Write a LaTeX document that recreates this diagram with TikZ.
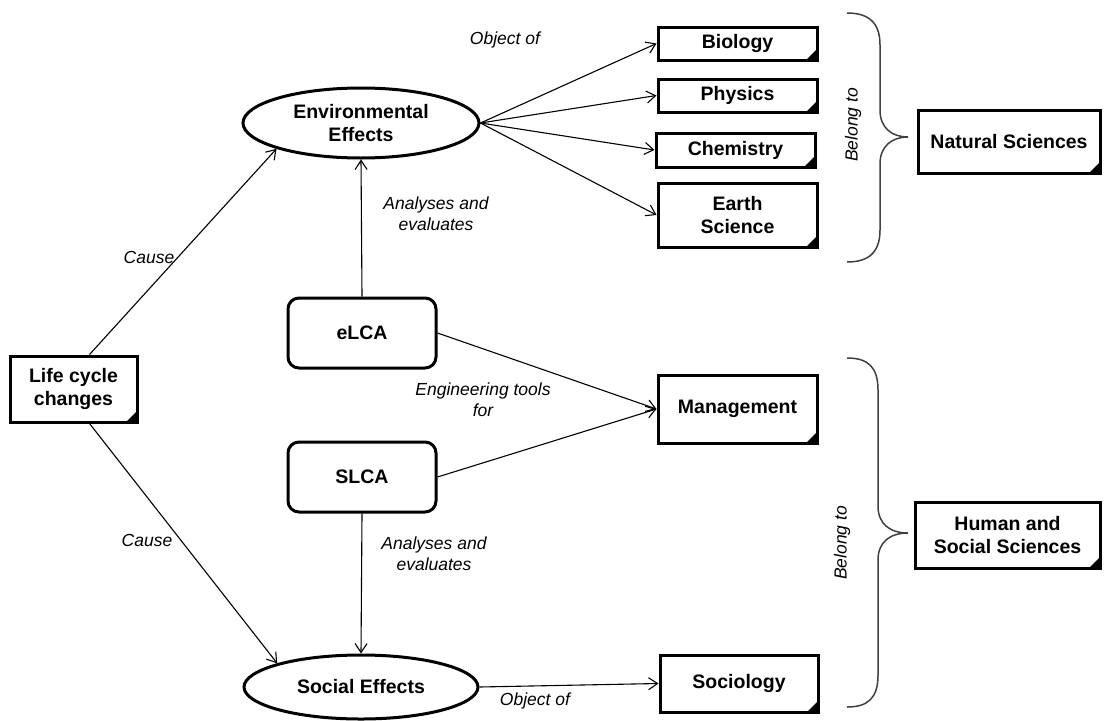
\documentclass[tikz,border=0pt]{standalone}
\usepackage{fontspec}
\setmainfont{Liberation Sans}
\usetikzlibrary{shapes.geometric,arrows.meta}
\tikzset{
  boxtext/.style={font=\fontsize{19.5}{23}\selectfont\bfseries, align=center, inner sep=0pt},
  docbox/.style={boxtext, draw, line width=3pt, rectangle,
    path picture={\fill (path picture bounding box.south east) -- ++(-11pt,0) -- ++(11pt,11pt) -- cycle;}},
  roundbox/.style={boxtext, draw, line width=3pt, rounded corners=11pt, rectangle},
  ellbox/.style={boxtext, draw, line width=3pt, ellipse},
  lbl/.style={font=\fontsize{17.5}{21}\selectfont\itshape, align=center, inner sep=0pt},
  arr/.style={line width=1.1pt, -{Straight Barb[length=9pt,width=12pt,line width=1.1pt]}},
  brace/.style={line width=1.5pt, draw=black!75}
}
\begin{document}
\begin{tikzpicture}[x=1pt,y=-1pt]
\useasboundingbox[fill=white] (0,0) rectangle (1107,720);

% main nodes
\node[docbox, minimum width=127pt, minimum height=66pt] (life) at (73.5,389) {Life cycle\\changes};
\node[ellbox, minimum width=236pt, minimum height=70pt] (env) at (361,123) {Environmental\\Effects};
\node[ellbox, minimum width=234pt, minimum height=64pt] (soc) at (361,687) {Social Effects};
\node[roundbox, minimum width=148pt, minimum height=70pt] (elca) at (362,333) {eLCA};
\node[roundbox, minimum width=148pt, minimum height=70pt] (slca) at (362,477) {SLCA};

\node[docbox, minimum width=159pt, minimum height=33pt] (bio) at (737.5,43.5) {Biology};
\node[docbox, minimum width=159pt, minimum height=33pt] (phy) at (737.5,95.5) {Physics};
\node[docbox, minimum width=159pt, minimum height=34pt] (chem) at (735.5,150) {Chemistry};
\node[docbox, minimum width=159pt, minimum height=64pt] (earth) at (737.5,215) {Earth\\Science};
\node[docbox, minimum width=182pt, minimum height=63pt] (nat) at (1009,141.5) {Natural Sciences};
\node[docbox, minimum width=159pt, minimum height=68pt] (man) at (737.5,409) {Management};
\node[docbox, minimum width=185pt, minimum height=66pt] (hum) at (1007.5,535) {Human and\\Social Sciences};
\node[docbox, minimum width=158pt, minimum height=57pt] (socio) at (739,683.5) {Sociology};

% connectors
\draw[arr] ([xshift=16pt]life.north) -- (env.south west);
\draw[arr] ([xshift=16pt]life.south) -- (soc.north west);
\draw[arr] (elca.north) -- (env.south);
\draw[arr] (slca.south) -- (soc.north);
\draw[arr] (env.east) -- (bio.west);
\draw[arr] (env.east) -- (phy.west);
\draw[arr] (env.east) -- (chem.west);
\draw[arr] (env.east) -- (earth.west);
\draw[arr] (elca.east) -- (man.west);
\draw[arr] (slca.east) -- (man.west);
\draw[arr] (soc.east) -- (socio.west);

% labels
\node[lbl] (l1) at (505,40) {Object of};
\node[lbl] (l2) at (149,257) {Cause};
\node[lbl] (l3) at (436,214) {Analyses and\\evaluates};
\node[lbl] (l4) at (483,400) {Engineering tools\\for};
\node[lbl] (l5) at (147,540) {Cause};
\node[lbl] (l6) at (434,554) {Analyses and\\evaluates};
\node[lbl] (l7) at (535,701) {Object of};
\node[lbl, rotate=90] (l8) at (853,125) {Belong to};
\node[lbl, rotate=90] (l9) at (842,543) {Belong to};

% braces
\draw[brace] (847,13) .. controls (868,13) and (880,22) .. (880,45) -- (880,110)
  .. controls (880,128) and (892,137) .. (908,137)
  .. controls (892,137) and (880,146) .. (880,164) -- (880,230)
  .. controls (880,253) and (868,262) .. (847,262);
\draw[brace] (847,358) .. controls (868,358) and (878,367) .. (878,390) -- (878,506)
  .. controls (878,524) and (890,533) .. (908,533)
  .. controls (890,533) and (878,542) .. (878,560) -- (878,675)
  .. controls (878,698) and (868,707) .. (847,707);
\end{tikzpicture}
\end{document}
